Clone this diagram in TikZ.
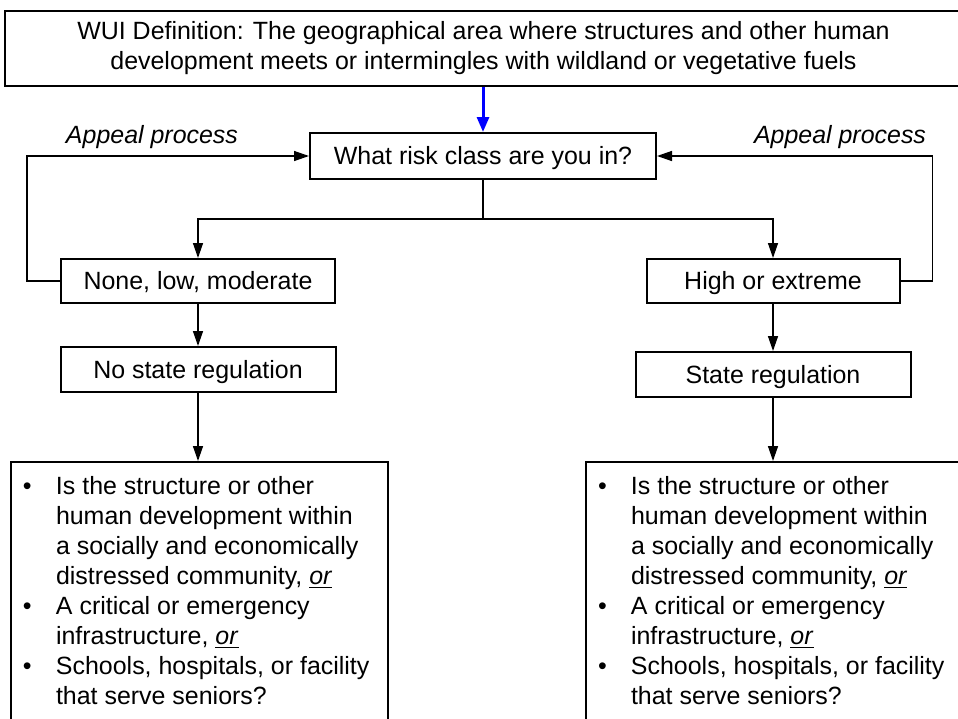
\documentclass[tikz,border=0pt]{standalone}
\usepackage{fontspec}
\setmainfont{Liberation Sans}
\usepackage{array}
\usetikzlibrary{arrows.meta, positioning, calc}

\begin{document}
\begin{tikzpicture}[x=0.2mm, y=-0.2mm,
        every node/.style={font=\fontsize{14.2pt}{17pt}\selectfont},
        box/.style={draw, line width=0.4mm, inner sep=0pt, align=center},
        onel/.style={box, text height=4.5mm, text depth=1mm},
        qbox/.style={draw, line width=0.4mm, anchor=north west, inner xsep=2.4mm, inner ysep=2.4mm},
        appeal/.style={font=\fontsize{14.2pt}{17pt}\selectfont\itshape},
        arr/.style={-{Triangle[length=3mm, width=2mm]}, line width=0.28mm},
        ln/.style={line width=0.28mm}
    ]
    \useasboundingbox[fill=white] (0,0) rectangle (958,718);

    % Definition
    \node[box, minimum width=957*0.2mm, minimum height=75*0.2mm,
          font=\fontsize{14.2pt}{17.5pt}\selectfont] (defn) at (483.5, 48)
        {WUI Definition: The geographical area where structures and other human\\
         development meets or intermingles with wildland or vegetative fuels};

    % Risk class
    \node[onel, minimum width=346*0.2mm, minimum height=46*0.2mm] (risk) at (483, 156) {What risk class are you in?};
    \draw[blue, line width=0.6mm, -{Triangle[length=3mm, width=2.4mm]}] (risk.north |- defn.south) -- (risk.north);

    % Classes
    \node[onel, minimum width=274*0.2mm, minimum height=44*0.2mm] (low) at (198, 281) {None, low, moderate};
    \node[onel, minimum width=253*0.2mm, minimum height=44*0.2mm] (high) at (773, 281) {High or extreme};

    % Regulation
    \node[onel, minimum width=275*0.2mm, minimum height=45*0.2mm] (nostate) at (198, 369.5) {No state regulation};
    \node[onel, minimum width=275*0.2mm, minimum height=45*0.2mm] (state) at (773, 374.5) {State regulation};

    % Appeal labels
    \node[appeal] (appL) at (152, 137) {Appeal process};
    \node[appeal] (appR) at (840, 137) {Appeal process};

    % Questions
    \node[qbox] (qleft) at (10, 461) {%
        \begin{tabular}{@{}p{6.6mm}@{}p{64mm}@{}}
        \textbullet & Is the structure or other\\
         & human development within\\
         & a socially and economically\\
         & distressed community, \underline{\textit{or}}\\
        \textbullet & A critical or emergency\\
         & infrastructure, \underline{\textit{or}}\\
        \textbullet & Schools, hospitals, or facility\\
         & that serve seniors?
        \end{tabular}};
    \node[qbox] (qright) at (585, 461) {%
        \begin{tabular}{@{}p{6.6mm}@{}p{64mm}@{}}
        \textbullet & Is the structure or other\\
         & human development within\\
         & a socially and economically\\
         & distressed community, \underline{\textit{or}}\\
        \textbullet & A critical or emergency\\
         & infrastructure, \underline{\textit{or}}\\
        \textbullet & Schools, hospitals, or facility\\
         & that serve seniors?
        \end{tabular}};

    % Arrows
    \draw[ln] (risk.south) -- ++(0, 39) coordinate (split);
    \draw[arr] (split) -| (low.north);
    \draw[arr] (split) -| (high.north);
    \draw[arr] (low.west) -- ++(-33, 0) |- (risk.west);
    \draw[arr] (high.east) -- ++(32, 0) |- (risk.east);
    \draw[arr] (low) -- (nostate);
    \draw[arr] (high) -- (state);
    \draw[arr] (nostate.south) -- (nostate.south |- qleft.north);
    \draw[arr] (state.south) -- (state.south |- qright.north);
\end{tikzpicture}
\end{document}
